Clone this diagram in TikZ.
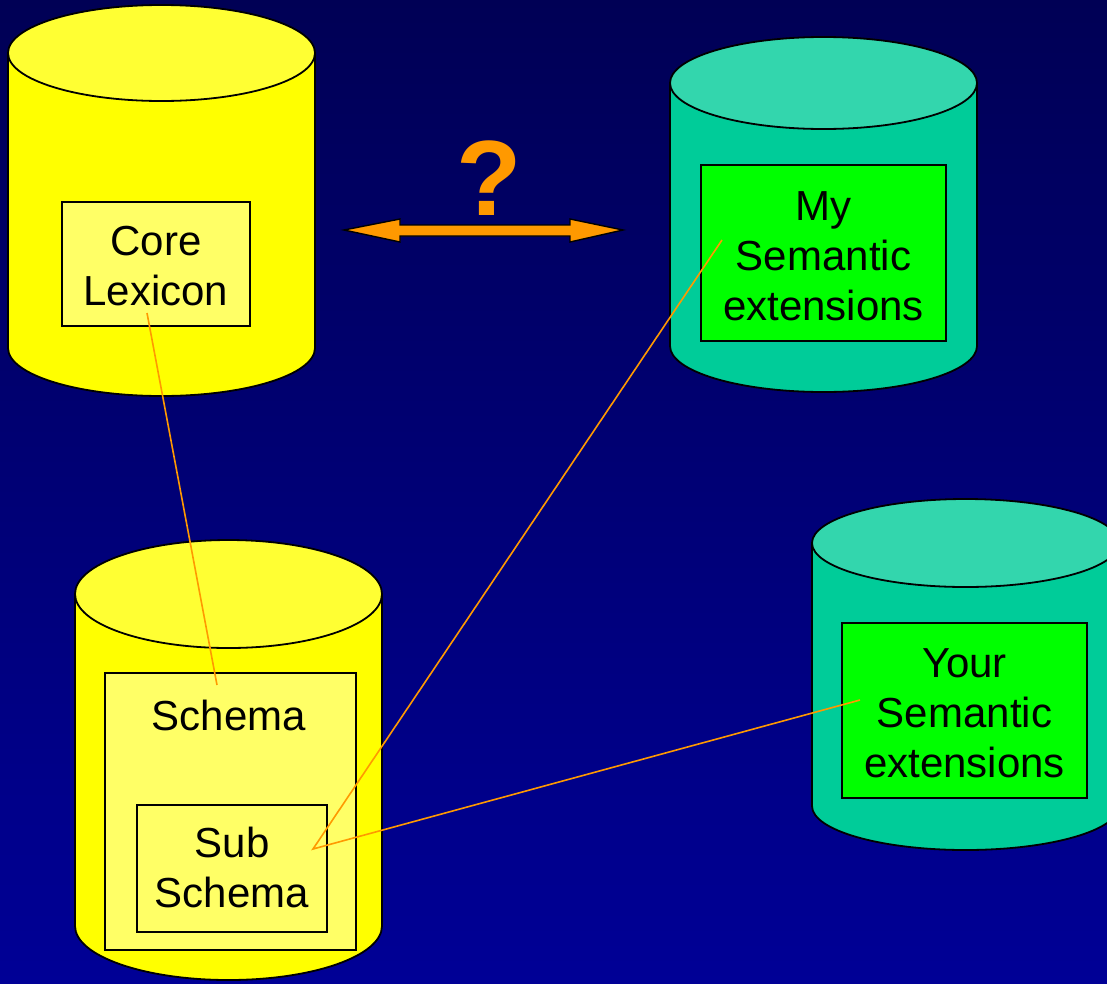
\documentclass[tikz,border=0pt]{standalone}
\usepackage{fontspec}
\setmainfont{Liberation Sans}
\definecolor{bgtop}{HTML}{000055}
\definecolor{bgbot}{HTML}{000096}
\definecolor{ylside}{HTML}{FFFF00}
\definecolor{yltop}{HTML}{FFFF33}
\definecolor{ylbox}{HTML}{FFFF66}
\definecolor{tlside}{HTML}{00CC99}
\definecolor{tltop}{HTML}{33D6AD}
\definecolor{grbox}{HTML}{00FF00}
\definecolor{orng}{HTML}{FF9900}
\newcommand\dbcyl[8]{% xl xr xc yt yb ry side top
  \path[fill=#7,draw=black,line width=1.8pt] (#1,#4) -- (#1,#5)
     arc[start angle=180,end angle=360,x radius=153.5pt,y radius=#6pt] -- (#2,#4) -- cycle;
  \path[fill=#8,draw=black,line width=1.8pt] (#3,#4) ellipse[x radius=153.5pt,y radius=#6pt];
}
\tikzset{
  lbl/.style={font=\fontsize{42}{50}\selectfont,align=center,inner sep=0pt,text=black},
  boxed/.style={draw=black,line width=1.8pt,inner sep=0pt},
  link/.style={draw=orng,line width=1.6pt},
}
\begin{document}
\begin{tikzpicture}[x=1pt,y=-1pt]
\useasboundingbox (0,0) rectangle (1107,983);
\clip (0,0) rectangle (1107,983);
\shade[top color=bgtop,bottom color=bgbot] (0,0) rectangle (1107,983);

% cylinders
\dbcyl{8}{315}{161.5}{53}{348}{48}{ylside}{yltop}
\dbcyl{670}{977}{823.5}{83}{346}{46}{tlside}{tltop}
\dbcyl{812}{1119}{965.5}{543}{806}{44}{tlside}{tltop}
\dbcyl{75}{382}{228.5}{594}{926}{54}{ylside}{yltop}

% boxes
\node[boxed,fill=ylbox,minimum width=188pt,minimum height=124pt] (core) at (156,264) {};
\node[lbl] at (156,266) {Core\\Lexicon};

\node[boxed,fill=grbox,minimum width=245pt,minimum height=176pt] (my) at (823.5,253) {};
\node[lbl] at (823.5,256) {My\\Semantic\\extensions};

\node[boxed,fill=grbox,minimum width=245pt,minimum height=175pt] (your) at (964.5,710.5) {};
\node[lbl] at (964.5,713) {Your\\Semantic\\extensions};

\node[boxed,fill=ylbox,minimum width=251pt,minimum height=277pt] (schema) at (230.5,811.5) {};
\node[lbl] (schematxt) at (229,715) {Schema};

\node[boxed,fill=ylbox,minimum width=190pt,minimum height=127pt] (sub) at (232,868.5) {};
\node[lbl] at (232,867) {Sub\\Schema};

% link ends
\coordinate (coreend) at (147,313);
\coordinate (schemaend) at (217,685);
\coordinate (subend) at (313,849);
\coordinate (myend) at (722,240);
\coordinate (yourend) at (860,700);

\draw[link] (coreend) -- (schemaend);
\draw[link] (myend) -- (subend) -- (yourend);

% double arrow and question mark
\path[fill=orng,draw=black,line width=1.4pt]
  (344,230) -- (400,219) -- (400,225) -- (570,225) -- (570,219) -- (623,230)
  -- (570,242) -- (570,236) -- (400,236) -- (400,242) -- cycle;
\node[anchor=base,inner sep=0pt,text=orng,font=\fontsize{107}{107}\bfseries\selectfont] (q) at (489,215) {?};
\end{tikzpicture}
\end{document}
